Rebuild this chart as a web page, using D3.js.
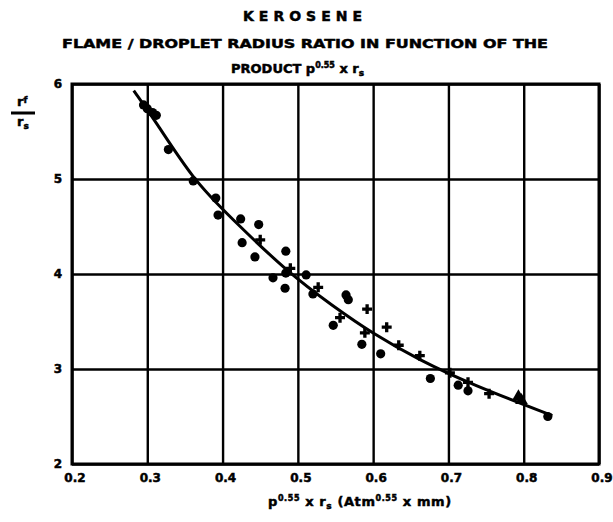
<!DOCTYPE html>
<html>
<head>
<meta charset="utf-8">
<script src="https://cdn.jsdelivr.net/npm/d3@7"></script>
<style>
  body { margin: 0; background: #fff; }
  text { font-family: "DejaVu Sans", sans-serif; font-weight: bold; fill: #000; }
  .heavy { stroke: #000; stroke-width: 0.5px; }
</style>
</head>
<body>
<svg id="chart" width="613" height="522"></svg>
<script>
// tick values of the grid
const xTicks = [0.2, 0.3, 0.4, 0.5, 0.6, 0.7, 0.8, 0.9];
const yTicks = [2, 3, 4, 5, 6];

// measured points, round markers
const circleX = [0.295, 0.300, 0.307, 0.312, 0.328, 0.361, 0.391, 0.394, 0.424, 0.448, 0.426, 0.443, 0.484,
                 0.467, 0.484, 0.483, 0.511, 0.520, 0.564, 0.567, 0.547, 0.585, 0.610, 0.676, 0.713, 0.726, 0.832];
const circleY = [5.78, 5.74, 5.70, 5.67, 5.31, 4.98, 4.80, 4.62, 4.58, 4.52, 4.33, 4.18, 4.24,
                 3.96, 4.01, 3.85, 3.99, 3.79, 3.78, 3.73, 3.46, 3.26, 3.16, 2.90, 2.83, 2.77, 2.50];

// measured points, cross markers
const crossX = [0.450, 0.490, 0.527, 0.592, 0.556, 0.618, 0.589, 0.634, 0.662, 0.702, 0.726, 0.754];
const crossY = [4.36, 4.06, 3.86, 3.63, 3.54, 3.44, 3.38, 3.25, 3.14, 2.96, 2.86, 2.74];

// measured points, triangle markers
const triX = [0.793, 0.797];
const triY = [2.71, 2.67];

// fitted curve as drawn
const curveX = [0.282, 0.310, 0.361, 0.410, 0.486, 0.547, 0.600, 0.660, 0.730, 0.838];
const curveY = [5.93, 5.62, 4.99, 4.60, 4.02, 3.66, 3.37, 3.10, 2.84, 2.51];

const svg = d3.select('#chart');
const plotLeft = 72, plotRight = 599, plotTop = 84, plotBottom = 464;

const x = d3.scaleLinear().domain([0.2, 0.9]).range([plotLeft, plotRight]);
const y = d3.scaleLinear().domain([2, 6]).range([plotBottom, plotTop]);

// grid lines
svg.append('g')
    .attr('transform', `translate(0,${plotBottom})`)
    .call(d3.axisBottom(x).tickValues(xTicks).tickSize(-(plotBottom - plotTop)).tickFormat(''))
    .call(g => g.select('.domain').remove())
    .call(g => g.selectAll('line').attr('stroke', '#000').attr('stroke-width', 2.4));
svg.append('g')
    .attr('transform', `translate(${plotLeft},0)`)
    .call(d3.axisLeft(y).tickValues(yTicks).tickSize(-(plotRight - plotLeft)).tickFormat(''))
    .call(g => g.select('.domain').remove())
    .call(g => g.selectAll('line').attr('stroke', '#000').attr('stroke-width', 2.4));

svg.append('rect')
    .attr('x', plotLeft).attr('y', plotTop)
    .attr('width', plotRight - plotLeft).attr('height', plotBottom - plotTop)
    .attr('fill', 'none').attr('stroke', '#000').attr('stroke-width', 3);

// tick labels
svg.append('g').selectAll('text').data(xTicks).join('text')
    .attr('class', 'heavy')
    .attr('x', d => x(d) + 3)
    .attr('y', plotBottom + 18)
    .attr('text-anchor', 'middle')
    .attr('font-size', 12)
    .text(d => d3.format('.1f')(d));
svg.append('g').selectAll('text').data(yTicks).join('text')
    .attr('class', 'heavy')
    .attr('x', plotLeft - 14)
    .attr('y', d => y(d) + 4)
    .attr('text-anchor', 'middle')
    .attr('font-size', 12)
    .text(d => d);

// curve
const line = d3.line().x(d => x(d[0])).y(d => y(d[1])).curve(d3.curveBasis);
svg.append('path')
    .datum(d3.zip(curveX, curveY))
    .attr('d', line)
    .attr('fill', 'none')
    .attr('stroke', '#000')
    .attr('stroke-width', 3);

// markers
svg.append('g').selectAll('circle').data(d3.zip(circleX, circleY)).join('circle')
    .attr('cx', d => x(d[0])).attr('cy', d => y(d[1]))
    .attr('r', 4.6).attr('fill', '#000');
svg.append('g').selectAll('path').data(d3.zip(crossX, crossY)).join('path')
    .attr('transform', d => `translate(${x(d[0])},${y(d[1])})`)
    .attr('d', d3.symbol().type(d3.symbolCross).size(55))
    .attr('fill', '#000');
svg.append('g').selectAll('path').data(d3.zip(triX, triY)).join('path')
    .attr('transform', d => `translate(${x(d[0])},${y(d[1])})`)
    .attr('d', d3.symbol().type(d3.symbolTriangle).size(70))
    .attr('fill', '#000');

// titles
svg.append('text').attr('class', 'heavy').attr('x', 305).attr('y', 21).attr('text-anchor', 'middle')
    .attr('font-size', 14).attr('letter-spacing', 5).text('KEROSENE');
svg.append('text').attr('class', 'heavy').attr('x', 62).attr('y', 48)
    .attr('font-size', 13).attr('textLength', 486).attr('lengthAdjust', 'spacingAndGlyphs')
    .text('FLAME / DROPLET RADIUS RATIO IN FUNCTION OF  THE');

const t3 = svg.append('text').attr('class', 'heavy').attr('x', 231).attr('y', 73).attr('font-size', 13);
t3.append('tspan').text('PRODUCT  p');
t3.append('tspan').attr('dy', -5).attr('font-size', 8).text('0.55');
t3.append('tspan').attr('dy', 5).text(' x  r');
t3.append('tspan').attr('dy', 3).attr('font-size', 9).text('s');

// x axis title
const xt = svg.append('text').attr('class', 'heavy').attr('x', 268).attr('y', 506).attr('font-size', 13)
    .attr('letter-spacing', 0.6);
xt.append('tspan').text('p');
xt.append('tspan').attr('dy', -5).attr('font-size', 8).text('0.55');
xt.append('tspan').attr('dy', 5).text(' x  r');
xt.append('tspan').attr('dy', 3).attr('font-size', 9).text('s');
xt.append('tspan').attr('dy', -3).text(' (Atm');
xt.append('tspan').attr('dy', -5).attr('font-size', 8).text('0.55');
xt.append('tspan').attr('dy', 5).text(' x mm)');

// y axis title, stacked ratio
svg.append('line').attr('x1', 11).attr('x2', 35).attr('y1', 113).attr('y2', 113)
    .attr('stroke', '#000').attr('stroke-width', 3);
const yt1 = svg.append('text').attr('class', 'heavy').attr('x', 17).attr('y', 106).attr('font-size', 13);
yt1.append('tspan').text('r');
yt1.append('tspan').attr('dy', -3).attr('font-size', 9).text('f');
const yt2 = svg.append('text').attr('class', 'heavy').attr('x', 17).attr('y', 126).attr('font-size', 13);
yt2.append('tspan').text('r');
yt2.append('tspan').attr('dy', 3).attr('font-size', 9).text('s');
</script>
</body>
</html>
